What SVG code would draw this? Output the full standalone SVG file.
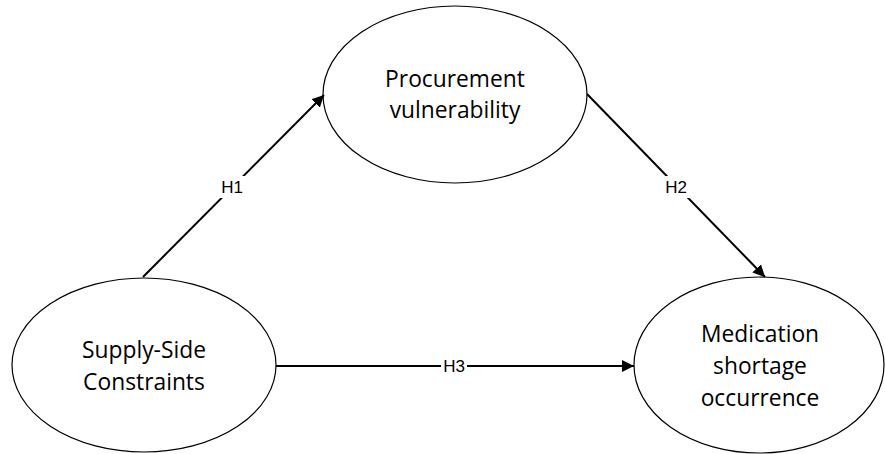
<svg xmlns="http://www.w3.org/2000/svg" width="885" height="454" viewBox="0 0 885 454">
<style>
.node{fill:#fff;stroke:#000;stroke-width:1.2}
.lbl{font-family:"Open Sans","Liberation Sans",sans-serif;font-size:22.8px;fill:#000;text-anchor:middle}
.edge{stroke:#000;stroke-width:2;fill:none}
.hl{font-family:"Liberation Sans",Arial,sans-serif;font-size:17px;fill:#000;text-anchor:middle;dominant-baseline:central}
.bg{fill:#fff}
</style>
<defs>
<marker id="arr" markerUnits="userSpaceOnUse" markerWidth="14" markerHeight="14" refX="12" refY="7" orient="auto" viewBox="0 0 14 14">
<path d="M0,1 L12,7 L0,13 z" fill="#000"/>
</marker>
</defs>
<g id="node-procurement">
<ellipse class="node" cx="455" cy="94.5" rx="132" ry="88.5"/>
<text class="lbl" x="455" y="87">Procurement</text>
<text class="lbl" x="455" y="118">vulnerability</text>
</g>
<g id="node-supply">
<ellipse class="node" cx="144" cy="365" rx="132" ry="87"/>
<text class="lbl" x="144" y="358">Supply-Side</text>
<text class="lbl" x="144" y="390">Constraints</text>
</g>
<g id="node-medication">
<ellipse class="node" cx="759" cy="365" rx="125" ry="88"/>
<text class="lbl" x="760" y="342">Medication</text>
<text class="lbl" x="760" y="374">shortage</text>
<text class="lbl" x="760" y="406">occurrence</text>
</g>
<g id="connectors">
<line class="edge" x1="143" y1="277" x2="324" y2="95" marker-end="url(#arr)"/>
<rect class="bg" x="218" y="176" width="28" height="22"/>
<text class="hl" x="232" y="187">H1</text>
<line class="edge" x1="587" y1="94" x2="765" y2="277" marker-end="url(#arr)"/>
<rect class="bg" x="662" y="176" width="28" height="22"/>
<text class="hl" x="676" y="187">H2</text>
<line class="edge" x1="276" y1="366" x2="634" y2="366" marker-end="url(#arr)"/>
<rect class="bg" x="441" y="356" width="26" height="20"/>
<text class="hl" x="454" y="366">H3</text>
</g>
</svg>
